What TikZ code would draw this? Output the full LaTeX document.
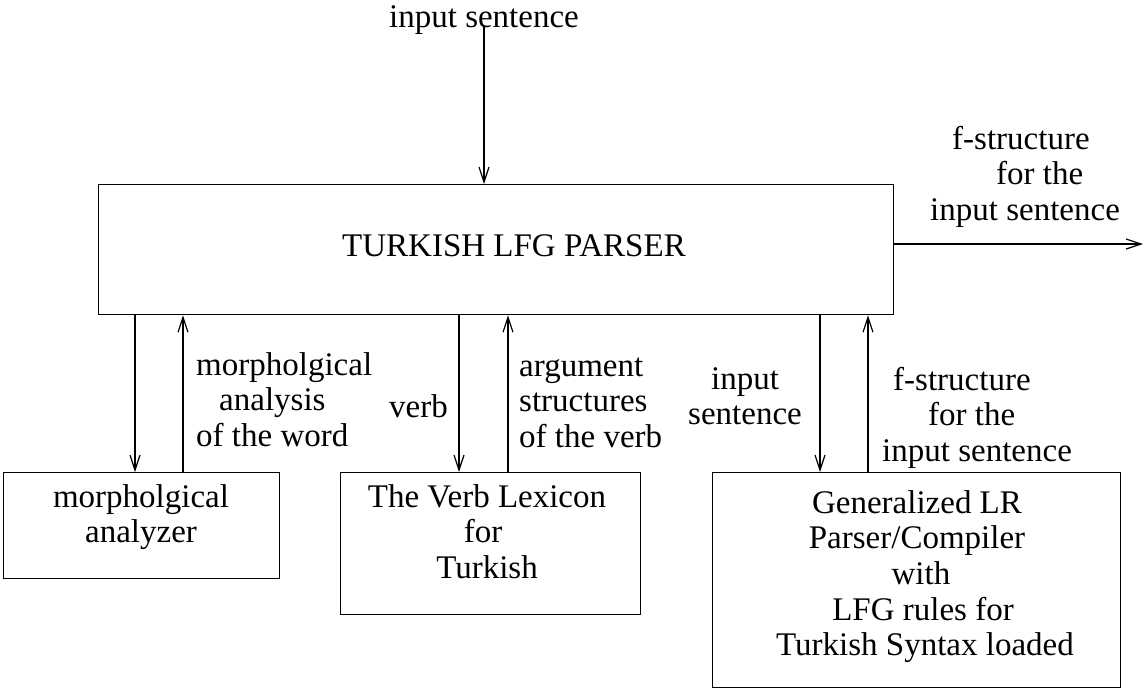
\documentclass[tikz,border=0pt]{standalone}
\usepackage{fontspec}
\setmainfont{Liberation Serif}
\usetikzlibrary{arrows.meta}
% stacked lines, baseline on the first line
\newcommand{\stk}[2][c]{\begin{tabular}[t]{@{}#1@{}}#2\end{tabular}}
\begin{document}
\begin{tikzpicture}[x=1pt,y=-1pt,
  font=\fontsize{33}{35.7}\selectfont,
  box/.style={draw, line width=1.3pt, inner sep=0pt, anchor=north west},
  txt/.style={inner sep=0pt, anchor=base},
  arr/.style={line width=1.2pt, -{Straight Barb[length=15pt,width=10pt,line width=1.2pt]}}]
\useasboundingbox (0,0) rectangle (1144,689);

% boxes
\node[box, minimum width=795pt, minimum height=130pt] (parser) at (98,184) {};
\node[box, minimum width=276pt, minimum height=106pt] (morph) at (3,472) {};
\node[box, minimum width=300pt, minimum height=142pt] (lex) at (340,472) {};
\node[box, minimum width=408pt, minimum height=215pt] (glr) at (712,472) {};

% box texts
\node[txt] (title) at (514,256) {TURKISH LFG PARSER};
\node[txt] (morpht) at (141,507) {\stk{morpholgical\\analyzer}};
\node[txt] (lext) at (487,507) {\stk{The Verb Lexicon\\for\hspace*{8pt}\\Turkish}};
\node[txt] (glrt) at (917,513)
  {\stk{Generalized LR\\Parser/Compiler\\\hspace*{8pt}with\\\hspace*{12pt}LFG rules for\\\hspace*{16pt}Turkish Syntax loaded}};

% input and output of the parser
\node[txt] (intop) at (484,27) {input sentence};
\node[txt, anchor=base west] (fout) at (930,149)
  {\stk[l]{\hspace*{22pt}f-structure\\\hspace*{66pt}for the\\input sentence}};
\coordinate (outend) at (1143,244);
\draw[arr] (intop.base) -- (parser.north -| intop.base);
\draw[arr] (parser.east |- outend) -- (outend);

% connector labels
\node[txt, anchor=base west] (manl) at (196,375)
  {\stk[l]{morpholgical\\\hspace*{23pt}analysis\\of the word}};
\node[txt, anchor=base east] (verbl) at (448,417) {verb};
\node[txt, anchor=base west] (argl) at (519,376)
  {\stk[l]{argument\\structures\\of the verb}};
\node[txt] (insl) at (745,389) {\stk{input\\sentence}};
\node[txt, anchor=base west] (fsl) at (882,390)
  {\stk[l]{\hspace*{11pt}f-structure\\\hspace*{46pt}for the\\input sentence}};

% connectors between the parser and its components
\draw[arr] (parser.south -| 135,0) -- (morph.north -| 135,0);
\draw[arr] (morph.north -| 183,0) -- (parser.south -| 183,0);
\draw[arr] (parser.south -| 459,0) -- (lex.north -| 459,0);
\draw[arr] (lex.north -| 508,0) -- (parser.south -| 508,0);
\draw[arr] (parser.south -| 820,0) -- (glr.north -| 820,0);
\draw[arr] (glr.north -| 868,0) -- (parser.south -| 868,0);
\end{tikzpicture}
\end{document}
